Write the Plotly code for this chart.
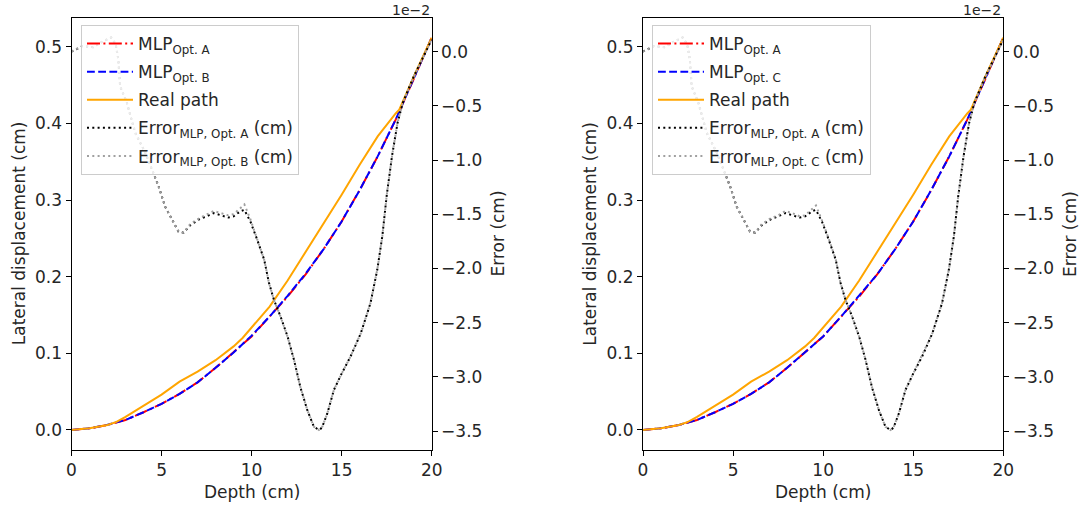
import plotly.graph_objects as go

# ---------------------------------------------------------------- data
# Lateral displacement of the reconstructed paths (cm)
depth_mlp = [0, 1, 2, 2.5, 3, 4, 5, 6, 7, 8, 9, 10, 11, 12, 13, 14, 15, 16, 17, 18, 19, 20]
mlp_opt_a = [0.0, 0.002, 0.0065, 0.0095, 0.013, 0.023, 0.034, 0.047, 0.062, 0.081, 0.101,
             0.122, 0.148, 0.174, 0.203, 0.236, 0.272, 0.313, 0.357, 0.405, 0.458, 0.512]
mlp_opt_b = [0.0, 0.002, 0.0066, 0.0096, 0.013, 0.023, 0.034, 0.047, 0.062, 0.081, 0.101,
             0.123, 0.148, 0.175, 0.204, 0.236, 0.272, 0.313, 0.357, 0.405, 0.458, 0.512]
mlp_opt_c = [0.0, 0.002, 0.0065, 0.0096, 0.013, 0.023, 0.034, 0.047, 0.062, 0.081, 0.101,
             0.122, 0.148, 0.175, 0.203, 0.236, 0.272, 0.313, 0.357, 0.405, 0.458, 0.512]

# Real (simulated) proton path
depth_real = [0, 1, 2, 2.5, 3, 3.5, 4, 5, 6, 6.5, 7, 8, 9, 9.5, 10, 11, 12, 13, 14, 15,
              16, 17, 18, 18.2, 19, 20]
real_path = [0.0, 0.002, 0.0065, 0.0105, 0.017, 0.024, 0.031, 0.046, 0.063, 0.069, 0.076,
             0.091, 0.109, 0.120, 0.134, 0.161, 0.195, 0.232, 0.269, 0.307, 0.346, 0.383,
             0.413, 0.418, 0.461, 0.512]

# Errors of the MLP estimates (units of 1e-2 cm)
depth_err = [0, 0.6, 1.2, 1.7, 2.2, 2.45, 2.6, 2.7, 3.07, 3.54, 4.09, 4.56, 4.83, 5.2, 5.57,
             5.94, 6.22, 6.6, 7.06, 7.5, 7.9, 8.3, 8.7, 9.0, 9.4, 9.6, 9.94, 10.3, 10.7,
             10.96, 11.24, 11.6, 12.0, 12.35, 12.7, 13.1, 13.46, 13.74, 13.9, 14.2, 14.57,
             15.0, 15.5, 16.06, 16.6, 16.98, 17.26, 17.5, 17.8, 18.1, 18.4, 19.0, 19.57, 20]
err_opt_a = [0.0, 0.05, 0.04, 0.09, 0.13, 0.07, -0.07, -0.32, -0.47, -0.75, -0.93, -1.12,
             -1.24, -1.43, -1.55, -1.66, -1.67, -1.60, -1.55, -1.52, -1.49, -1.51, -1.53,
             -1.52, -1.47, -1.46, -1.57, -1.73, -1.92, -2.13, -2.29, -2.44, -2.63, -2.84,
             -3.09, -3.31, -3.46, -3.49, -3.47, -3.34, -3.12, -2.97, -2.81, -2.60, -2.32,
             -2.01, -1.70, -1.33, -0.96, -0.66, -0.47, -0.23, -0.04, 0.11]
err_opt_b = [0.0, 0.05, 0.04, 0.09, 0.13, 0.07, -0.07, -0.32, -0.47, -0.75, -0.93, -1.12,
             -1.24, -1.43, -1.55, -1.66, -1.67, -1.59, -1.54, -1.50, -1.47, -1.49, -1.51,
             -1.50, -1.44, -1.41, -1.55, -1.72, -1.92, -2.13, -2.29, -2.44, -2.63, -2.84,
             -3.09, -3.31, -3.46, -3.49, -3.47, -3.34, -3.12, -2.97, -2.81, -2.60, -2.32,
             -2.01, -1.70, -1.33, -0.96, -0.66, -0.47, -0.23, -0.04, 0.11]
err_opt_c = [0.0, 0.05, 0.04, 0.09, 0.13, 0.07, -0.07, -0.32, -0.47, -0.75, -0.93, -1.12,
             -1.24, -1.43, -1.55, -1.66, -1.67, -1.59, -1.54, -1.51, -1.47, -1.49, -1.52,
             -1.51, -1.45, -1.42, -1.56, -1.72, -1.92, -2.13, -2.29, -2.44, -2.63, -2.84,
             -3.09, -3.31, -3.46, -3.49, -3.47, -3.34, -3.12, -2.97, -2.81, -2.60, -2.32,
             -2.01, -1.70, -1.33, -0.96, -0.66, -0.47, -0.23, -0.04, 0.11]

depth_ticks = [0, 5, 10, 15, 20]
disp_ticks = [0.0, 0.1, 0.2, 0.3, 0.4, 0.5]
err_ticks = [0.0, -0.5, -1.0, -1.5, -2.0, -2.5, -3.0, -3.5]

# ---------------------------------------------------------------- styling
W, H = 1080, 506
FONT = "DejaVu Sans"
TXT = "#262626"
LW = 2

DOT = "2px,3.3px"
DASH = "7.8px,3.4px"
DASHDOT = "13px,3.4px,2px,3.4px"

panels = [
    dict(x="x", y="y", y2="y2", legend="legend", other="B",
         mlp=mlp_opt_b, err=err_opt_b),
    dict(x="x2", y="y3", y2="y4", legend="legend2", other="C",
         mlp=mlp_opt_c, err=err_opt_c),
]

fig = go.Figure()
for k, p in enumerate(panels):
    o = p["other"]
    fig.add_trace(go.Scatter(
        x=depth_mlp, y=mlp_opt_a, mode="lines", xaxis=p["x"], yaxis=p["y"],
        name="MLP<sub>Opt. A</sub>", legend=p["legend"], legendgroup=f"{k}a",
        line=dict(color="#ff0000", width=LW, dash=DASHDOT)))
    fig.add_trace(go.Scatter(
        x=depth_mlp, y=p["mlp"], mode="lines", xaxis=p["x"], yaxis=p["y"],
        name=f"MLP<sub>Opt. {o}</sub>", legend=p["legend"], legendgroup=f"{k}b",
        line=dict(color="#0000ff", width=LW, dash=DASH)))
    fig.add_trace(go.Scatter(
        x=depth_real, y=real_path, mode="lines", xaxis=p["x"], yaxis=p["y"],
        name="Real path", legend=p["legend"], legendgroup=f"{k}c",
        line=dict(color="#ffa500", width=LW)))
    fig.add_trace(go.Scatter(
        x=depth_err, y=err_opt_a, mode="lines", xaxis=p["x"], yaxis=p["y2"],
        name="Error<sub>MLP, Opt. A</sub> (cm)", legend=p["legend"], legendgroup=f"{k}d",
        line=dict(color="#000000", width=LW, dash=DOT)))
    fig.add_trace(go.Scatter(
        x=depth_err, y=p["err"], mode="lines", xaxis=p["x"], yaxis=p["y2"],
        name=f"Error<sub>MLP, Opt. {o}</sub> (cm)", legend=p["legend"], legendgroup=f"{k}e",
        line=dict(color="#a0a0a0", width=LW, dash=DOT)))

# plot-area geometry in pixels
x_doms = [(71.5, 431.7), (643.0, 1003.3)]
y_top, y_bot = 18.0, 449.5
ydom = [1 - y_bot / H, 1 - y_top / H]

axis_common = dict(
    showline=True, linecolor="black", linewidth=1, showgrid=False, zeroline=False,
    ticks="outside", ticklen=5, tickwidth=1, tickcolor="black",
    tickfont=dict(family=FONT, size=17, color=TXT),
)

layout = dict(
    width=W, height=H, margin=dict(l=0, r=0, t=0, b=0, autoexpand=False),
    paper_bgcolor="white", plot_bgcolor="white",
    font=dict(family=FONT, size=17, color=TXT),
    showlegend=True,
)

for i, (xl, xr) in enumerate(x_doms):
    xa = "xaxis" if i == 0 else "xaxis2"
    ya = "yaxis" if i == 0 else "yaxis3"
    yb = "yaxis2" if i == 0 else "yaxis4"
    xname = "x" if i == 0 else "x2"
    yname = "y" if i == 0 else "y3"
    layout[xa] = dict(axis_common, domain=[xl / W, xr / W], range=[0, 20],
                      tickvals=depth_ticks, mirror=True, anchor=yname)
    layout[ya] = dict(axis_common, domain=ydom, range=[-0.0256, 0.5376],
                      tickvals=disp_ticks, tickformat=".1f", anchor=xname)
    layout[yb] = dict(axis_common, range=[-3.67, 0.31], tickvals=err_ticks,
                      tickformat=".1f", overlaying=yname, side="right", anchor=xname)

legend_common = dict(
    bgcolor="rgba(255,255,255,0.8)", bordercolor="#cccccc", borderwidth=1,
    font=dict(family=FONT, size=17, color=TXT), xanchor="left", yanchor="top",
    tracegroupgap=3, itemwidth=46,
)
layout["legend"] = dict(legend_common, x=81 / W, y=1 - 25 / H)
layout["legend2"] = dict(legend_common, x=652 / W, y=1 - 25 / H)

annotations = []
ymid = 1 - (y_top + y_bot) / 2 / H
for xl, xr in x_doms:
    annotations.append(dict(text="Depth (cm)", x=(xl + xr) / 2 / W, y=1 - 492 / H,
                            xref="paper", yref="paper", showarrow=False,
                            xanchor="center", yanchor="middle",
                            font=dict(family=FONT, size=17, color=TXT)))
    annotations.append(dict(text="Lateral displacement (cm)", x=(xl - 53) / W, y=ymid,
                            xref="paper", yref="paper", showarrow=False, textangle=-90,
                            xanchor="center", yanchor="middle",
                            font=dict(family=FONT, size=17, color=TXT)))
    annotations.append(dict(text="Error (cm)", x=(xr + 66) / W, y=ymid,
                            xref="paper", yref="paper", showarrow=False, textangle=-90,
                            xanchor="center", yanchor="middle",
                            font=dict(family=FONT, size=17, color=TXT)))
    annotations.append(dict(text="1e\u22122", x=xr / W, y=1 - 10 / H,
                            xref="paper", yref="paper", showarrow=False,
                            xanchor="right", yanchor="middle",
                            font=dict(family=FONT, size=14, color=TXT)))
layout["annotations"] = annotations

fig.update_layout(**layout)
fig.write_html("out.html")
